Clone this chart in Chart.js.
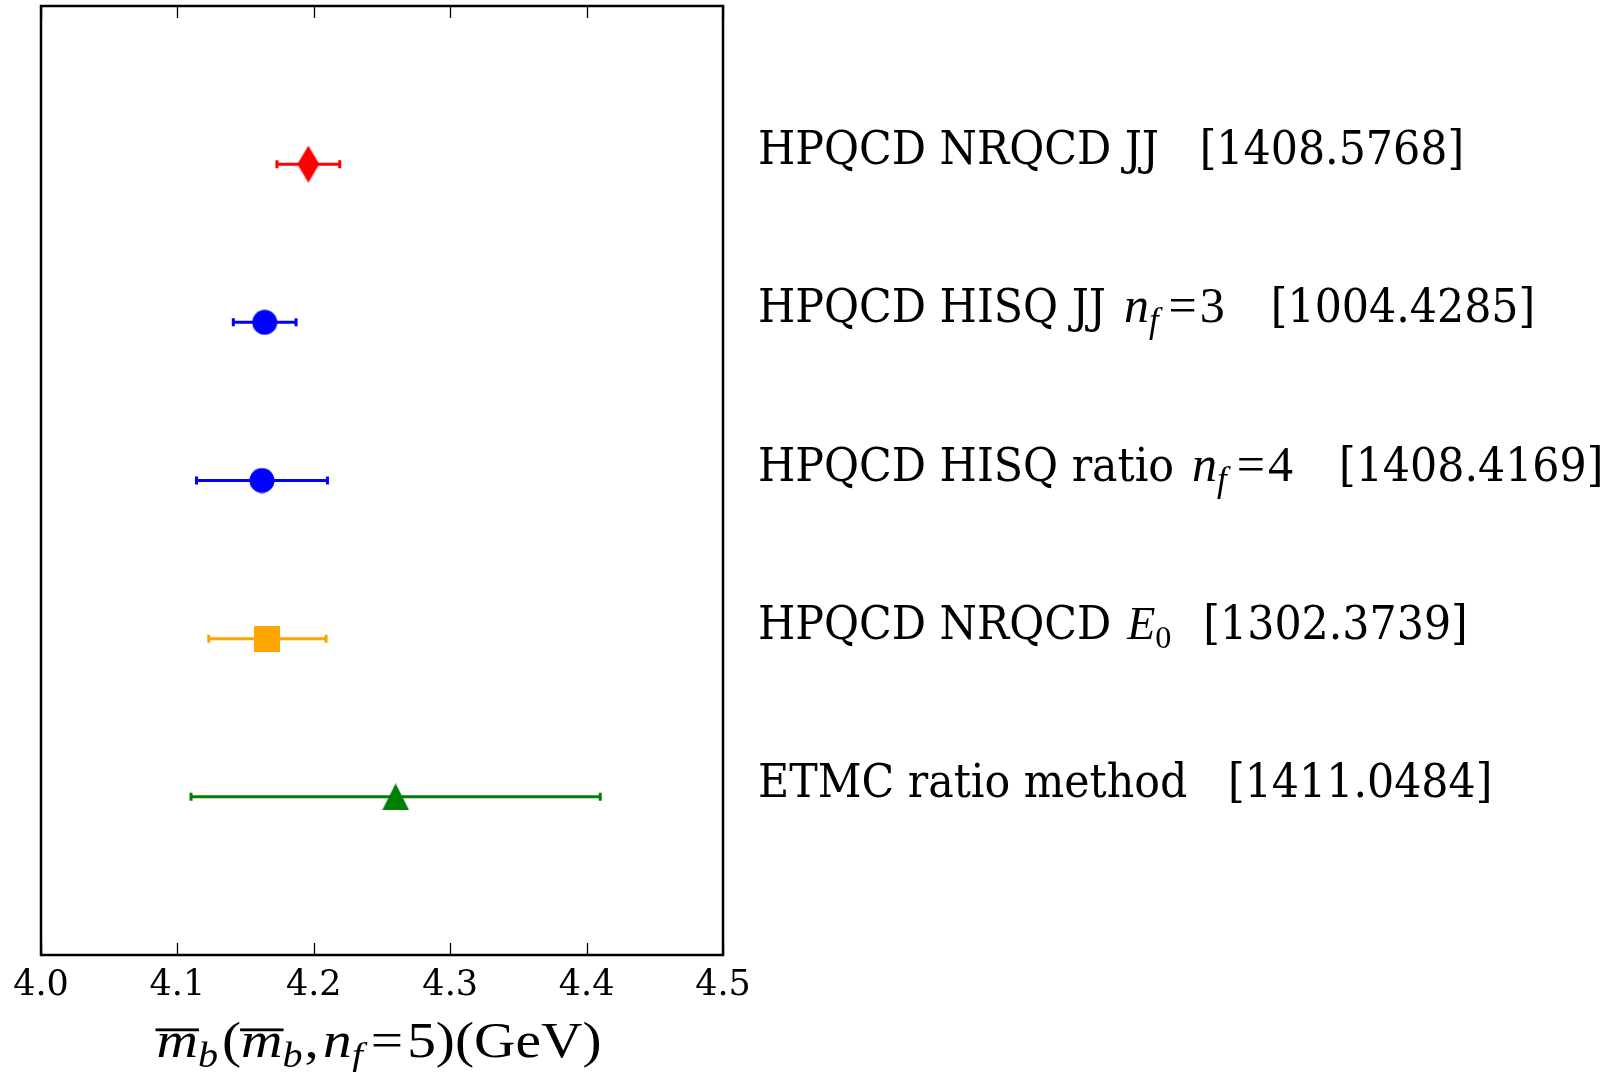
<!DOCTYPE html>
<html><head><meta charset="utf-8">
<script src="https://cdn.jsdelivr.net/npm/chart.js@4.4.0/dist/chart.umd.min.js"></script>
<style>html,body{margin:0;padding:0;background:#fff;} canvas{display:block;}</style>
</head><body>
<canvas id="c" width="1611" height="1072"></canvas>
<script>
// ---- data ----
const categories = ['HPQCD NRQCD JJ', 'HPQCD HISQ JJ', 'HPQCD HISQ ratio', 'HPQCD NRQCD', 'ETMC ratio method'];
const labelSymbols = ['', 'n', 'n', 'E', ''];
const labelSubs = ['', 'f', 'f', '0', ''];
const labelEqs = ['', '=3', '=4', '', ''];
const labelRefs = ['[1408.5768]', '[1004.4285]', '[1408.4169]', '[1302.3739]', '[1411.0484]'];
const centralValues = [4.196, 4.164, 4.162, 4.166, 4.26];
const errorValues = [0.023, 0.023, 0.048, 0.043, 0.15];
const rowPositions = [5, 4, 3, 2, 1];
const xTickValues = [4.0, 4.1, 4.2, 4.3, 4.4, 4.5];
const markerColors = ['#ff0000', '#0000ff', '#0000ff', '#ffa500', '#008000'];
const markerShapes = ['thinDiamond', 'circle', 'circle', 'square', 'triangle'];

// ---- styles ----
const LABEL_FONT = '"DejaVu Serif Condensed", "DejaVu Serif", serif';
const MATH_FONT = '"Liberation Serif", serif';
const LABEL_SIZE = 47.5;
const MATH_SIZE = 50;
const TITLE_SIZE = 51;
const TITLE_STRETCH = 1.125;

function makeMarker(shape, color) {
  const c = document.createElement('canvas');
  let w = 26, h = 26;
  if (shape === 'thinDiamond') { w = 22; h = 37; }
  if (shape === 'triangle') { w = 27; h = 27; }
  c.width = w; c.height = h;
  const g = c.getContext('2d');
  g.fillStyle = color;
  g.beginPath();
  if (shape === 'thinDiamond') {
    g.moveTo(w / 2, 0); g.lineTo(w, h / 2); g.lineTo(w / 2, h); g.lineTo(0, h / 2);
  } else if (shape === 'circle') {
    g.arc(w / 2, h / 2, w / 2 - 0.5, 0, Math.PI * 2);
  } else if (shape === 'square') {
    g.rect(0, 0, w, h);
  } else if (shape === 'triangle') {
    g.moveTo(w / 2, 0); g.lineTo(w, h); g.lineTo(0, h);
  }
  g.closePath(); g.fill();
  return c;
}
const markerImages = markerShapes.map((s, i) => makeMarker(s, markerColors[i]));

// draws a run of text pieces; returns the total advance (in unscaled px)
function drawSegments(ctx, segs, x, baseline, opts, measureOnly) {
  const sx = opts.stretch || 1;
  let cx = 0;
  for (const s of segs) {
    const base = s.math ? (s.mathSize || opts.mathSize) : opts.size;
    const fs = s.sub ? base * 0.7 : base;
    const fam = s.math ? MATH_FONT : LABEL_FONT;
    ctx.font = (s.it ? 'italic ' : '') + fs.toFixed(1) + 'px ' + fam;
    const w = ctx.measureText(s.t).width * sx;
    cx += (s.pre || 0);
    if (!measureOnly) {
      const y = baseline + (s.sub ? base * 0.2 : 0);
      ctx.save();
      ctx.translate(x + cx, y);
      ctx.scale(sx, 1);
      ctx.fillText(s.t, 0, 0);
      ctx.restore();
      if (s.over) {
        ctx.fillRect(x + cx - 1, baseline - base * 0.56, w + 2, base * 0.055);
      }
    }
    cx += w + (s.post || 0);
  }
  return cx;
}

const customPlugin = {
  id: 'custom',
  beforeDatasetsDraw(chart) {
    const ctx = chart.ctx, xs = chart.scales.x, ys = chart.scales.y;
    ctx.save();
    centralValues.forEach((c, i) => {
      const x0 = xs.getPixelForValue(c - errorValues[i]);
      const x1 = xs.getPixelForValue(c + errorValues[i]);
      const y = ys.getPixelForValue(rowPositions[i]);
      ctx.strokeStyle = markerColors[i];
      ctx.lineWidth = 3;
      ctx.beginPath(); ctx.moveTo(x0, y); ctx.lineTo(x1, y); ctx.stroke();
      ctx.beginPath();
      ctx.moveTo(x0, y - 4); ctx.lineTo(x0, y + 4);
      ctx.moveTo(x1, y - 4); ctx.lineTo(x1, y + 4);
      ctx.stroke();
    });
    ctx.restore();
  },
  afterDraw(chart) {
    const ctx = chart.ctx, a = chart.chartArea, xs = chart.scales.x, ys = chart.scales.y;
    ctx.save();
    // frame
    ctx.strokeStyle = '#000';
    ctx.lineWidth = 2.5;
    ctx.strokeRect(a.left, a.top, a.right - a.left, a.bottom - a.top);
    // inward ticks
    ctx.lineWidth = 1.3;
    ctx.beginPath();
    xTickValues.forEach(v => {
      const px = Math.round(xs.getPixelForValue(v)) + 0.5;
      ctx.moveTo(px, a.top); ctx.lineTo(px, a.top + 12);
      ctx.moveTo(px, a.bottom); ctx.lineTo(px, a.bottom - 12);
    });
    ctx.stroke();
    // right-hand labels
    ctx.fillStyle = '#000';
    ctx.textBaseline = 'alphabetic';
    ctx.textAlign = 'left';
    const lopts = { size: LABEL_SIZE, mathSize: MATH_SIZE };
    categories.forEach((name, i) => {
      let segs;
      if (labelSymbols[i]) {
        const isE = !labelEqs[i];
        segs = [{ t: name }];
        segs.push({ t: labelSymbols[i], it: true, math: true, pre: isE ? 16 : 18, mathSize: isE ? 46 : MATH_SIZE });
        segs.push({ t: labelSubs[i], it: !isE, math: true, sub: true, mathSize: isE ? 46 : MATH_SIZE });
        if (labelEqs[i]) {
          segs.push({ t: labelEqs[i].charAt(0), math: true, pre: 10 });
          segs.push({ t: labelEqs[i].slice(1), math: true, pre: 3 });
        }
        segs.push({ t: labelRefs[i], pre: isE ? 32 : 46 });
      } else {
        segs = [{ t: name + '   ' + labelRefs[i] }];
      }
      const y = ys.getPixelForValue(rowPositions[i]);
      drawSegments(ctx, segs, 758, y, lopts);
    });
    // x axis title
    const topts = { size: TITLE_SIZE, mathSize: TITLE_SIZE, stretch: TITLE_STRETCH };
    const titleSegs = [
      { t: 'm', it: true, math: true, over: true },
      { t: 'b', it: true, math: true, sub: true },
      { t: '(', math: true, pre: 4 },
      { t: 'm', it: true, math: true, over: true },
      { t: 'b', it: true, math: true, sub: true },
      { t: ',', math: true, pre: 2 },
      { t: 'n', it: true, math: true, pre: 4 },
      { t: 'f', it: true, math: true, sub: true },
      { t: '=', math: true, pre: 8 },
      { t: '5)(GeV)', math: true, pre: 4 }
    ];
    const tw = drawSegments(ctx, titleSegs, 0, 0, topts, true);
    const cx = (a.left + a.right) / 2 - 3;
    drawSegments(ctx, titleSegs, cx - tw / 2, 1057, topts);
    ctx.restore();
  }
};

new Chart(document.getElementById('c'), {
  type: 'scatter',
  data: {
    datasets: [{
      data: centralValues.map((v, i) => ({ x: v, y: rowPositions[i] })),
      pointStyle: markerImages,
      pointRadius: 13,
      pointHoverRadius: 13,
      backgroundColor: markerColors,
      borderColor: markerColors,
      borderWidth: 0,
      clip: false
    }]
  },
  options: {
    responsive: false,
    animation: false,
    events: [],
    layout: { autoPadding: false, padding: { left: 41, top: 6, right: 888, bottom: 0 } },
    plugins: { legend: { display: false }, tooltip: { enabled: false } },
    scales: {
      x: {
        type: 'linear', min: 4.0, max: 4.5,
        afterBuildTicks: s => { s.ticks = xTickValues.map(v => ({ value: v })); },
        afterFit: s => { s.height = 117; },
        grid: { display: false, drawTicks: false },
        border: { display: false },
        ticks: {
          autoSkip: false, maxRotation: 0, padding: 10, color: '#000',
          font: { family: '"DejaVu Serif", serif', size: 35 },
          callback: v => Number(v).toFixed(1)
        }
      },
      y: { type: 'linear', min: 0, max: 6, display: false }
    }
  },
  plugins: [customPlugin]
});
</script>
</body></html>
